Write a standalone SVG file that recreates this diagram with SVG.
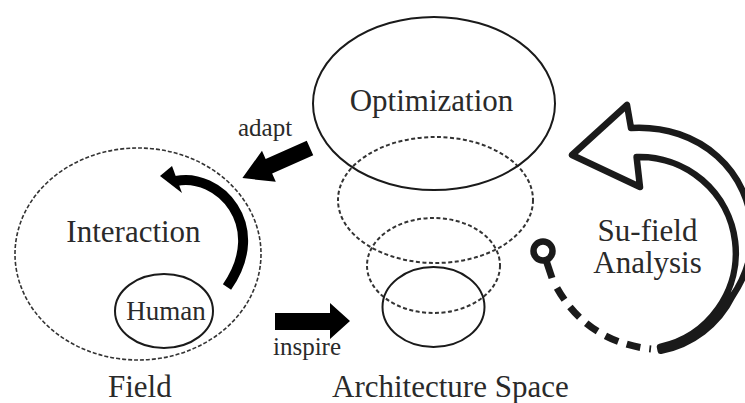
<svg xmlns="http://www.w3.org/2000/svg" width="745" height="403" viewBox="0 0 745 403">
  <style>
    .lbl { font-family: "Liberation Serif", "Times New Roman", serif; fill: #2a2a2a; }
    .solid { fill: none; stroke: #1a1a1a; stroke-width: 2; }
    .dash { fill: none; stroke: #333; stroke-width: 2; stroke-dasharray: 4 2.5; }
    .fine-dash { fill: none; stroke: #333; stroke-width: 1.6; stroke-dasharray: 4 2; }
    .block { fill: #000; }
  </style>

  <rect width="745" height="403" fill="#fff"/>

  <!-- Field: dashed boundary with the Human node inside -->
  <g id="field">
    <ellipse class="fine-dash" cx="138" cy="254" rx="123" ry="106"/>
    <text class="lbl" x="133.5" y="242" font-size="31" text-anchor="middle">Interaction</text>
    <text class="lbl" x="108" y="397" font-size="31">Field</text>
  </g>

  <g id="human">
    <ellipse class="solid" cx="164" cy="311" rx="49" ry="37" stroke-width="1.6"/>
    <text class="lbl" x="166" y="320" font-size="27" text-anchor="middle">Human</text>
  </g>

  <!-- Architecture space: stacked levels narrowing downwards -->
  <g id="architecture-space">
    <ellipse class="dash" cx="435.5" cy="200" rx="97.5" ry="63"/>
    <ellipse class="dash" cx="433.5" cy="265.5" rx="66.5" ry="47.5"/>
    <ellipse class="solid" cx="433.5" cy="307" rx="51" ry="40"/>
    <text class="lbl" x="332" y="397" font-size="31">Architecture Space</text>
  </g>

  <g id="optimization">
    <ellipse class="solid" cx="434" cy="103.5" rx="121" ry="86.5" fill="#fff"/>
    <text class="lbl" x="431.5" y="111" font-size="31" text-anchor="middle">Optimization</text>
  </g>

  <g id="su-field-analysis">
    <text class="lbl" x="647.5" y="241" font-size="31" text-anchor="middle">Su-field</text>
    <text class="lbl" x="647.5" y="273" font-size="31" text-anchor="middle">Analysis</text>
  </g>

  <g id="connectors">
    <!-- adapt: Optimization -> Field -->
    <polygon class="block" points="0,-8 45,-8 45,-17 74,0 45,17 45,8 0,8" transform="translate(310,148) rotate(156)"/>
    <text class="lbl" x="238" y="136" font-size="25">adapt</text>

    <!-- inspire: Field -> Architecture space -->
    <polygon class="block" points="275,313 330,313 330,303 350,321 330,339 330,330 275,330"/>
    <text class="lbl" x="273" y="355" font-size="25">inspire</text>

    <!-- interaction loop from Human back round the field -->
    <path d="M 227 287 C 270 225, 218 172, 176 181" fill="none" stroke="#000" stroke-width="10"/>
    <polygon class="block" points="160,176 172,166 182,193"/>

    <!-- su-field analysis cycle: hollow curved arrow -->
    <path d="M 631 128 C 700 124, 752 172, 752 235 C 752 262, 742 282, 732.4 296.1 A 101 101 0 0 1 660.8 350.8 L 660 346.9 A 96 96 0 0 0 636.6 157.1 L 640 187 L 572 155 L 627 105 Z"
          fill="#fff" stroke="#1a1a1a" stroke-width="6.5" stroke-linejoin="round"/>
    <circle cx="543" cy="251" r="9.5" fill="none" stroke="#1a1a1a" stroke-width="6.5"/>
    <line x1="546" y1="260" x2="552" y2="278" stroke="#1a1a1a" stroke-width="7"/>
    <path d="M 557 288 C 575 320, 605 344, 651 349" fill="none" stroke="#1a1a1a" stroke-width="7" stroke-dasharray="14 9"/>
  </g>
</svg>
